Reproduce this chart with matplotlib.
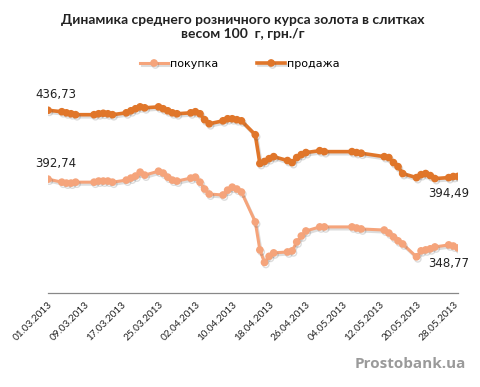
import matplotlib
matplotlib.use("Agg")
import matplotlib.pyplot as plt
import matplotlib.dates as mdates
import matplotlib.patheffects as pe
import pandas as pd

# trading days (business days, holidays skipped)
dates = [
    "01.03.2013", "04.03.2013", "05.03.2013", "06.03.2013", "07.03.2013",
    "11.03.2013", "12.03.2013", "13.03.2013", "14.03.2013", "15.03.2013",
    "18.03.2013", "19.03.2013", "20.03.2013", "21.03.2013", "22.03.2013",
    "25.03.2013", "26.03.2013", "27.03.2013", "28.03.2013", "29.03.2013",
    "01.04.2013", "02.04.2013", "03.04.2013", "04.04.2013", "05.04.2013",
    "08.04.2013", "09.04.2013", "10.04.2013", "11.04.2013", "12.04.2013",
    "15.04.2013", "16.04.2013", "17.04.2013", "18.04.2013", "19.04.2013",
    "22.04.2013", "23.04.2013", "24.04.2013", "25.04.2013", "26.04.2013",
    "29.04.2013", "30.04.2013", "06.05.2013", "07.05.2013", "08.05.2013",
    "13.05.2013", "14.05.2013", "15.05.2013", "16.05.2013", "17.05.2013",
    "20.05.2013", "21.05.2013", "22.05.2013", "23.05.2013", "24.05.2013",
    "27.05.2013", "28.05.2013", "29.05.2013",
]

buy = [
    392.74, 390.8, 390.2, 390.2, 390.8,
    390.8, 391.5, 391.5, 391.5, 390.8,
    392.1, 393.4, 394.7, 397.2, 395.3,
    397.8, 396.6, 394.0, 392.1, 391.5,
    393.4, 394.0, 390.8, 386.4, 383.2,
    382.6, 385.7, 387.6, 386.4, 384.5,
    365.4, 347.5, 339.5, 343.4, 345.6,
    346.2, 346.9, 352.6, 356.4, 359.6,
    362.2, 362.2, 362.2, 361.5, 360.9,
    360.2, 358.3, 355.8, 353.3, 351.3,
    343.1, 346.9, 347.5, 348.2, 349.4,
    350.7, 350.0, 348.77,
]

sell = [
    436.73, 435.8, 435.1, 434.5, 433.9,
    433.9, 434.5, 434.8, 434.5, 433.9,
    435.1, 436.4, 437.7, 438.9, 438.3,
    438.9, 437.7, 436.4, 435.1, 434.5,
    435.1, 435.8, 434.5, 430.7, 428.1,
    430.0, 431.3, 431.3, 430.7, 430.0,
    421.1, 402.7, 404.0, 405.8, 407.1,
    404.6, 403.3, 406.5, 408.4, 409.7,
    410.9, 410.3, 410.3, 409.7, 409.3,
    407.1, 406.5, 403.3, 400.7, 396.3,
    393.7, 395.6, 396.3, 395.0, 393.1,
    393.7, 394.4, 394.49,
]

buy_label = "покупка"
sell_label = "продажа"
title = "Динамика среднего розничного курса золота в слитках\nвесом 100  г, грн./г"

x = pd.to_datetime(dates, format="%d.%m.%Y")
c_buy = "#F5A47B"
c_sell = "#E0762A"

fig = plt.figure(figsize=(4.8, 3.87), dpi=100)
ax = fig.add_axes([0.1, 0.243, 0.854, 0.55])

shadow = [pe.SimpleLineShadow(offset=(1, -1.5), alpha=0.2, shadow_color="#555555"),
          pe.Normal()]
ax.plot(x, buy, color=c_buy, lw=2.2, marker="o", ms=4.5, mec=c_buy,
        label=buy_label, path_effects=shadow)
ax.plot(x, sell, color=c_sell, lw=2.6, marker="o", ms=4.5, mec=c_sell,
        label=sell_label, path_effects=shadow)

ax.set_xlim(x[0], x[-1])
ax.set_ylim(320, 456)

for side in ["top", "right", "left"]:
    ax.spines[side].set_visible(False)
ax.spines["bottom"].set_color("#888888")
ax.spines["bottom"].set_linewidth(0.9)
ax.set_yticks([])

ticks = pd.date_range(x[0], x[-1], freq="8D")
ax.set_xticks(ticks)
ax.xaxis.set_major_formatter(mdates.DateFormatter("%d.%m.%Y"))
ax.tick_params(axis="x", length=0, pad=5, labelsize=7.2, labelcolor="#222222")
for lbl in ax.get_xticklabels():
    lbl.set_rotation(45)
    lbl.set_ha("right")
    lbl.set_rotation_mode("anchor")
    lbl.set_family("Lato")

# end-point labels
ax.annotate(f"{sell[0]:.2f}".replace(".", ","), (x[0], sell[0]),
            xytext=(-9, 11), textcoords="offset points", fontsize=8.5,
            ha="left", va="center", color="#222222")
ax.annotate(f"{buy[0]:.2f}".replace(".", ","), (x[0], buy[0]),
            xytext=(-9, 11), textcoords="offset points", fontsize=8.5,
            ha="left", va="center", color="#222222")
ax.annotate(f"{sell[-1]:.2f}".replace(".", ","), (x[-1], sell[-1]),
            xytext=(8, -12), textcoords="offset points", fontsize=8.5,
            ha="right", va="center", color="#222222")
ax.annotate(f"{buy[-1]:.2f}".replace(".", ","), (x[-1], buy[-1]),
            xytext=(8, -11), textcoords="offset points", fontsize=8.5,
            ha="right", va="center", color="#222222")

fig.text(0.506, 0.93, title, ha="center", va="center", fontsize=10,
         fontweight="bold", family="Lato", color="#222222", linespacing=1.25)

fig.legend(loc="center", bbox_to_anchor=(0.5, 0.835), ncol=2, frameon=False,
           fontsize=8, handlelength=2.5, columnspacing=3.5, handletextpad=0.2)

fig.text(0.97, 0.06, "Prostobank.ua", ha="right", va="center", fontsize=11,
         fontweight="bold", color="#9a9a9a", family="Open Sans")

fig.savefig("out.png", dpi=100)
